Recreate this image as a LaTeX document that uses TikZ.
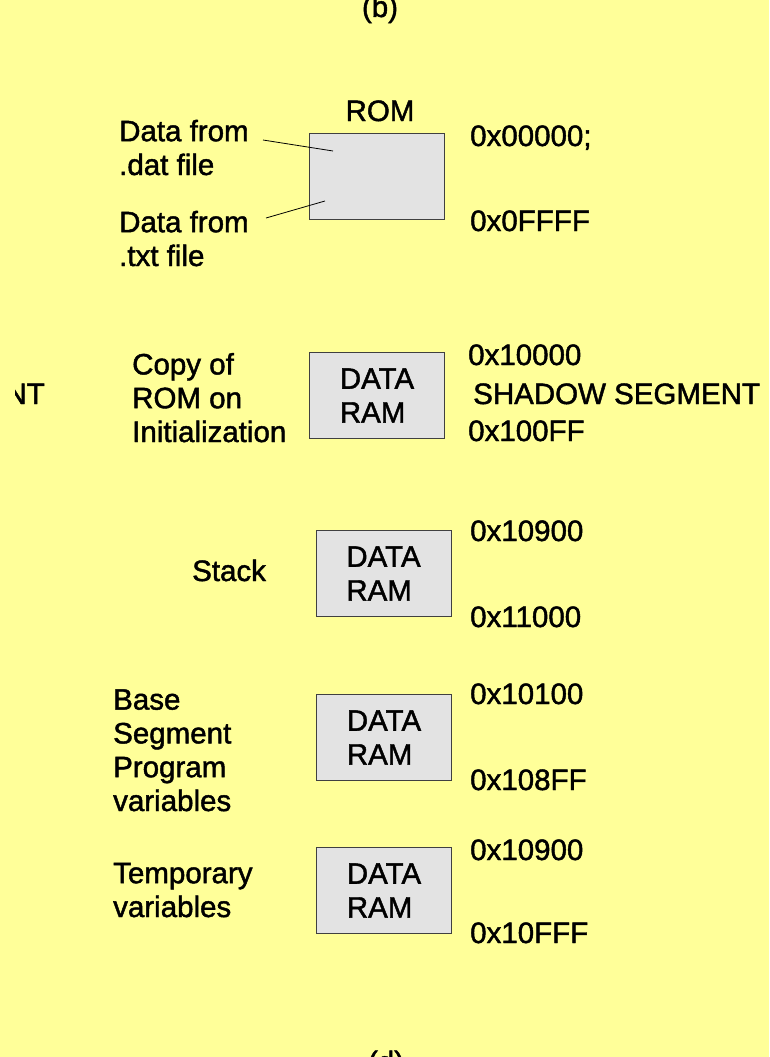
\documentclass[tikz,border=0pt]{standalone}
\usepackage{fontspec}
\setmainfont{Liberation Sans}[FakeBold=1.5]
\definecolor{padyellow}{HTML}{FFFF99}
\definecolor{memgray}{HTML}{E3E3E3}

\begin{document}
\begin{tikzpicture}[x=1pt,y=-1pt,
  txt/.style={anchor=base west,inner sep=0pt,align=left,font=\fontsize{29.5}{33.8}\selectfont},
  mem/.style={draw=black!75,fill=memgray,line width=0.8pt,minimum width=135pt,minimum height=86pt,
    inner sep=0pt,align=left,font=\fontsize{29.5}{33.8}\selectfont},
  lead/.style={draw=black,line width=0.8pt}]
\useasboundingbox (0,0) rectangle (769,1057);
\fill[padyellow] (0,0) rectangle (769,1057);
% cut-off captions
\node[txt,anchor=base] (capb) at (380,17) {(b)};
\node[txt,anchor=base] (capd) at (386,1072) {(d)};
\begin{scope}
\clip (15,360) rectangle (90,420);
\node[txt,anchor=base east] (cutnt) at (45,404) {NT};
\end{scope}
% ROM
\node[txt,anchor=base] (romttl) at (380,121) {ROM};
\node[mem] (rom) at (377,176) {};
\node[txt] (datlbl) at (119,175) {Data from\\.dat file};
\node[txt] (txtlbl) at (119,266) {Data from\\.txt file};
\coordinate (datfrom) at (263,140);
\coordinate (datto) at (333,151);
\coordinate (txtfrom) at (266,218);
\coordinate (txtto) at (325,201);
\draw[lead] (datfrom) -- (datto);
\draw[lead] (txtfrom) -- (txtto);
\node[txt] (a1) at (470,146) {0x00000;};
\node[txt] (a2) at (470,231) {0x0FFFF};
% shadow segment
\node[mem] (ram1) at (377,395.5) {DATA\\RAM};
\node[txt] (copylbl) at (132,442) {Copy of\\ROM on\\Initialization};
\node[txt] (a3) at (468,365) {0x10000};
\node[txt] (shadow) at (473,404) {SHADOW SEGMENT};
\node[txt] (a4) at (468,441) {0x100FF};
% stack
\node[mem] (ram2) at (383.5,573.5) {DATA\\RAM};
\node[txt] (stacklbl) at (192,581) {Stack};
\node[txt] (a5) at (470,541) {0x10900};
\node[txt] (a6) at (470,627) {0x11000};
% base segment
\node[mem] (ram3) at (384,737.5) {DATA\\RAM};
\node[txt] (baselbl) at (113,811) {Base\\Segment\\Program\\variables};
\node[txt] (a7) at (470,704) {0x10100};
\node[txt] (a8) at (470,790) {0x108FF};
% temporaries
\node[mem] (ram4) at (384,890.5) {DATA\\RAM};
\node[txt] (templbl) at (113,917) {Temporary\\variables};
\node[txt] (a9) at (470,860) {0x10900};
\node[txt] (a10) at (470,943) {0x10FFF};
\end{tikzpicture}
\end{document}
